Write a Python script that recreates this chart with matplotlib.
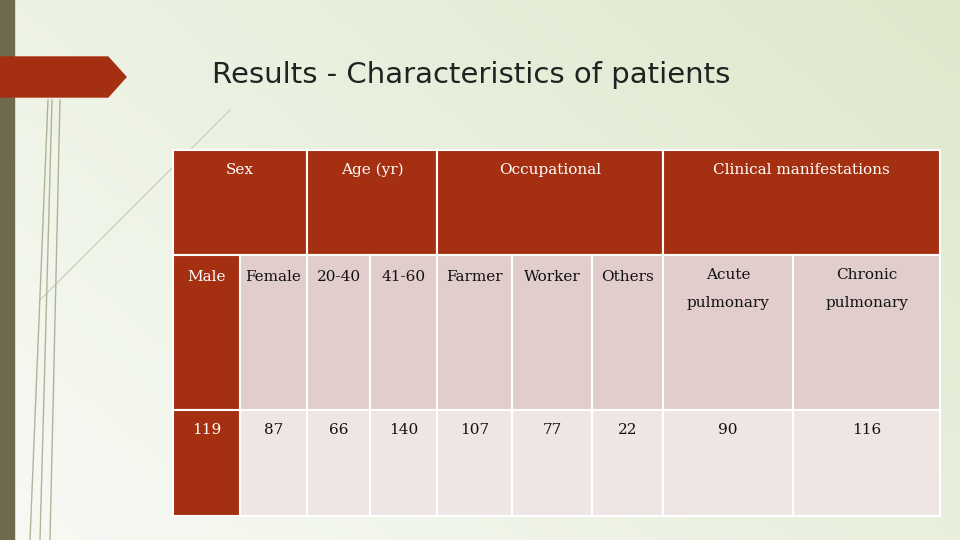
import matplotlib
matplotlib.use("Agg")
import matplotlib.pyplot as plt
from matplotlib.patches import Rectangle, Polygon
import numpy as np

title = "Results - Characteristics of patients"
groups = ["Sex", "Age (yr)", "Occupational", "Clinical manifestations"]
group_spans = [2, 2, 3, 2]
subcats = ["Male", "Female", "20-40", "41-60", "Farmer", "Worker", "Others",
           "Acute\n\npulmonary", "Chronic\n\npulmonary"]
values = [119, 87, 66, 140, 107, 77, 22, 90, 116]

col_edges = [173, 240, 307, 370, 437, 512, 592, 663, 793, 940]
row_edges = [150, 255, 410, 516]
RED = "#A52F11"

fig = plt.figure(figsize=(9.6, 5.4), dpi=100)
ax = fig.add_axes([0, 0, 1, 1])
ax.set_xlim(0, 960); ax.set_ylim(540, 0); ax.axis("off")

grad = np.linspace(0, 1, 256)
X, Y = np.meshgrid(grad, grad)
t = np.clip(0.6 * X + 0.4 * (1 - Y), 0, 1)
c1 = np.array([0.97, 0.98, 0.96]); c2 = np.array([0.87, 0.91, 0.80])
img = c1[None, None, :] * (1 - t[..., None]) + c2[None, None, :] * t[..., None]
ax.imshow(img, extent=[0, 960, 540, 0], aspect="auto", zorder=0)

ax.add_patch(Rectangle((0, 0), 14, 540, color="#6E6A4E", zorder=1))
ax.add_patch(Polygon([(0, 57), (108, 57), (126, 77), (108, 97), (0, 97)], color="#A52F11", zorder=2))
for x0, x1 in [(48, 30), (52, 40), (60, 50)]:
    ax.plot([x0, x1], [100, 540], color="#8A8560", lw=1, alpha=0.6, zorder=1)
ax.plot([40, 230], [300, 110], color="#B8BFA0", lw=1, alpha=0.6, zorder=1)

ax.text(212, 75, title, fontsize=21, family="DejaVu Sans", color="#222222", va="center", zorder=3)

def cell(x0, x1, y0, y1, fc):
    ax.add_patch(Rectangle((x0, y0), x1 - x0, y1 - y0, fc=fc, ec="white", lw=1.5, zorder=3))

ci = 0
for g, s in zip(groups, group_spans):
    x0, x1 = col_edges[ci], col_edges[ci + s]
    cell(x0, x1, row_edges[0], row_edges[1], RED)
    ax.text((x0 + x1) / 2, 170, g, color="white", fontsize=11, family="DejaVu Serif",
            ha="center", va="center", zorder=4)
    ci += s

for i, (lab, v) in enumerate(zip(subcats, values)):
    x0, x1 = col_edges[i], col_edges[i + 1]
    first = i == 0
    cell(x0, x1, row_edges[1], row_edges[2], RED if first else "#E1CDCC")
    cell(x0, x1, row_edges[2], row_edges[3], RED if first else "#EFE6E4")
    col = "white" if first else "#111111"
    if "\n" in lab:
        ax.text((x0 + x1) / 2, 268, lab, color=col, fontsize=11, family="DejaVu Serif",
                ha="center", va="top", zorder=4, linespacing=1.0)
    else:
        ax.text((x0 + x1) / 2, 277, lab, color=col, fontsize=11, family="DejaVu Serif",
                ha="center", va="center", zorder=4)
    ax.text((x0 + x1) / 2, 430, str(v), color=col, fontsize=11, family="DejaVu Serif",
            ha="center", va="center", zorder=4)

fig.savefig("out.png", dpi=100)
